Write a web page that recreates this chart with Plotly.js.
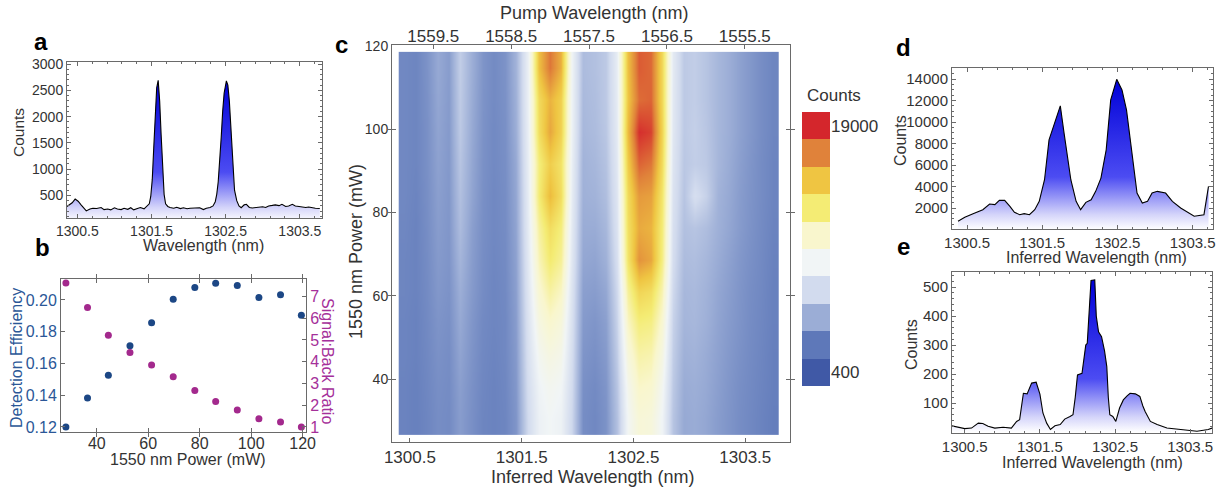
<!DOCTYPE html>
<html><head><meta charset="utf-8">
<script src="https://cdn.plot.ly/plotly-3.0.1.min.js"></script>
<style>html,body{margin:0;padding:0;background:#fff}#chart{width:1231px;height:492px}</style>
</head><body><div id="chart"></div>
<script>
// ---------- DATA ----------
// panel a: spectrum
const aWave = [1300.36,1300.43,1300.47,1300.51,1300.55,1300.59,1300.62,1300.67,1300.71,1300.76,1300.82,1300.86,1300.91,1300.95,1301.00,1301.04,1301.09,1301.13,1301.18,1301.22,1301.26,1301.31,1301.35,1301.40,1301.44,1301.47,1301.49,1301.51,1301.53,1301.55,1301.57,1301.59,1301.61,1301.63,1301.65,1301.67,1301.69,1301.72,1301.75,1301.80,1301.84,1301.89,1301.93,1301.98,1302.02,1302.07,1302.11,1302.15,1302.20,1302.24,1302.29,1302.33,1302.36,1302.38,1302.40,1302.42,1302.44,1302.46,1302.48,1302.51,1302.53,1302.55,1302.57,1302.60,1302.62,1302.65,1302.68,1302.71,1302.75,1302.78,1302.82,1302.86,1302.91,1302.95,1303.00,1303.04,1303.08,1303.13,1303.17,1303.22,1303.26,1303.31,1303.35,1303.40,1303.44,1303.49,1303.53,1303.58,1303.62,1303.67,1303.71,1303.77];
const aCounts = [290,360,430,390,320,250,205,240,255,250,270,230,240,225,265,240,230,255,235,265,225,250,270,245,290,340,480,800,1400,2100,2550,2690,2300,1650,950,520,340,290,270,255,275,250,265,245,255,260,250,265,230,255,270,300,380,520,760,1100,1600,2100,2450,2680,2600,2300,1800,1050,600,400,300,265,320,330,270,260,265,275,285,270,300,310,320,305,330,290,300,330,300,290,285,270,280,260,255,250];

// panel b: efficiency and ratio vs power
const powerB = [28.0,36.4,44.5,52.9,61.3,69.7,78.1,86.2,94.6,103.0,111.4,119.5];
const effB   = [0.1200,0.1383,0.1526,0.1712,0.1857,0.2004,0.2078,0.2105,0.2091,0.2015,0.2032,0.1903];
const ratioB = [7.62,6.49,5.22,4.42,3.85,3.31,2.68,2.17,1.78,1.38,1.23,1.00];

// panel c: counts map (rows = power, cols = inferred wavelength)
const heatWave = [1300.45,1300.55,1300.65,1300.75,1300.85,1300.95,1301.05,1301.15,1301.25,1301.35,1301.45,1301.55,1301.65,1301.75,1301.85,1301.95,1302.05,1302.15,1302.25,1302.35,1302.45,1302.55,1302.65,1302.75,1302.85,1302.95,1303.05,1303.15,1303.25,1303.35,1303.45,1303.55,1303.65,1303.75];
const heatPower = [30.4,38.1,45.7,53.4,61.0,68.7,76.4,84.0,91.7,99.3,107.0,114.7];
const heatCounts = [
 [2900,2800,3000,3300,3200,3900,3400,3000,2900,3000,3600,6600,8300,8700,8400,6400,3300,3100,3500,5400,8800,10200,10000,8600,5600,4400,4500,4300,3900,3600,3300,3100,2900,2700],
 [2900,2800,3050,3350,3250,4000,3450,3050,2900,3050,3700,6800,8500,9000,8700,6600,3400,3200,3600,5600,9200,10800,10600,9000,5800,4500,4600,4400,4000,3650,3350,3150,2950,2750],
 [2950,2850,3100,3450,3300,4200,3550,3100,2950,3100,3800,7000,9000,9700,9300,6800,3600,3400,3800,5900,10000,11600,11400,9700,6000,4700,4800,4500,4100,3750,3450,3200,3000,2750],
 [2950,2850,3150,3550,3400,4400,3650,3150,3000,3100,3900,7200,9700,10600,10000,7000,3800,3600,4000,6200,10900,12600,12400,10500,6200,4900,5000,4700,4200,3850,3550,3250,3050,2800],
 [3000,2900,3200,3700,3500,4600,3800,3250,3000,3150,4000,7400,10400,11700,10900,7200,4000,3900,4300,6500,11900,14000,13600,11400,6500,5000,5100,4800,4300,3950,3600,3300,3100,2800],
 [3000,2900,3250,3800,3600,4900,3900,3300,3050,3200,4100,7600,11200,12900,12000,7500,4300,4200,4700,6900,13200,16400,15800,12500,6800,5200,5300,5000,4500,4100,3700,3400,3150,2850],
 [3050,2900,3300,3900,3650,5200,4000,3350,3100,3250,4200,7800,11800,13600,12600,7700,4500,4500,5000,7200,13500,15700,15400,12800,7000,5400,5600,5300,4700,4300,3850,3500,3200,2900],
 [3100,2950,3350,4000,3700,5400,4200,3400,3100,3300,4300,7900,12800,15200,13600,7900,4700,4800,5300,7400,13800,16200,16000,13200,7200,5600,6900,6200,4800,4400,3900,3550,3250,2950],
 [3100,3000,3400,4100,3750,5600,4300,3450,3150,3350,4400,8000,12600,14400,13300,8100,4800,5000,5500,7600,14500,17600,17200,13800,7400,5700,6000,5800,5000,4500,4000,3600,3250,2950],
 [3100,3000,3400,4200,3800,5800,4400,3500,3150,3400,4600,8100,13600,15800,14200,8300,5000,5200,5700,7800,15200,18800,18400,14200,7600,5800,6100,5700,5000,4600,4100,3700,3300,3000],
 [3100,3000,3450,4300,3850,5900,4500,3550,3200,3450,4700,8200,13800,15400,14300,8400,5100,5300,5800,7900,14800,17400,17600,14000,7700,5800,6000,5600,5000,4600,4100,3700,3300,3000],
 [3100,3000,3500,4400,3900,6000,4600,3600,3200,3500,4800,8200,15000,17200,15500,8500,5200,5400,5800,8000,15000,17800,17500,14000,7800,5800,6000,5600,5000,4600,4100,3700,3300,3000]
];
const pumpTicks = [1559.5,1558.5,1557.5,1556.5,1555.5];
const cbLevels = [400,2467,4533,6600,8667,10733,12800,14867,16933,19000];

// panel d
const dWave = [1300.38,1300.47,1300.58,1300.71,1300.80,1300.87,1300.93,1301.00,1301.07,1301.13,1301.20,1301.26,1301.33,1301.40,1301.46,1301.53,1301.59,1301.66,1301.74,1301.79,1301.88,1301.95,1302.01,1302.08,1302.15,1302.21,1302.28,1302.35,1302.41,1302.49,1302.56,1302.62,1302.70,1302.76,1302.83,1302.90,1302.96,1303.03,1303.14,1303.23,1303.34,1303.52,1303.65,1303.71];
const dCounts = [763,1134,1474,1845,2370,2310,2710,2710,2155,1600,1380,1474,1380,1845,2620,4630,8340,9890,11500,8960,4630,2620,1845,2525,2770,3550,4780,7410,12050,13970,12980,11120,6790,3390,2460,2620,3390,3550,3390,2620,2000,1230,1380,4010];

// panel e
const eWave = [1300.32,1300.41,1300.50,1300.59,1300.65,1300.68,1300.74,1300.81,1300.90,1301.01,1301.12,1301.19,1301.23,1301.26,1301.28,1301.33,1301.36,1301.39,1301.45,1301.50,1301.54,1301.59,1301.64,1301.70,1301.77,1301.83,1301.90,1301.94,1301.97,1302.00,1302.06,1302.09,1302.11,1302.13,1302.16,1302.18,1302.23,1302.25,1302.28,1302.32,1302.36,1302.39,1302.41,1302.43,1302.47,1302.51,1302.56,1302.61,1302.66,1302.70,1302.77,1302.83,1302.87,1302.90,1302.97,1303.06,1303.19,1303.37,1303.59,1303.74,1303.79];
const eCounts = [22,18,12,14,25,31,30,20,14,17,14,37,43,100,134,132,150,169,172,131,66,31,9,22,26,45,54,60,120,197,203,260,300,306,420,523,525,400,346,329,280,226,120,60,54,37,83,111,125,134,132,123,90,71,37,26,14,9,3,9,14];

// ---------- STYLE ----------
const W = 1231, H = 492;
const fx = p => p / W, fy = p => 1 - p / H;
const FONT = 'Liberation Sans, Arial, Helvetica, sans-serif';
const TXT = '#333333';
const FRAME = '#6a6a6a';
const BLUE = '#2b5797', PURPLE = '#a5309a';
const FILLSCALE = [[0,'#ffffff'],[0.1,'#d4d4fa'],[0.35,'#4c4cf2'],[1,'#0000d8']];
const bandColors = ['#4059a6','#5e78b9','#9badd6','#d2dbee','#f1f5f6','#f9f6cd','#f4ec74','#efc542','#e0823a','#d4262c'];
const HEATSCALE = bandColors.map((c, i) => [i / (bandColors.length - 1), c]);

function ax(extra) {
  return Object.assign({
    showline: true, linecolor: FRAME, linewidth: 1, mirror: 'allticks',
    ticks: 'inside', ticklen: 4, tickcolor: FRAME, tickwidth: 1,
    showgrid: false, zeroline: false, fixedrange: true,
    tickfont: {family: FONT, size: 14, color: TXT}
  }, extra);
}
function tf(size, color) { return {family: FONT, size: size, color: color || TXT}; }

const traces = [
  {x: aWave, y: aCounts, xaxis: 'x', yaxis: 'y', mode: 'lines', line: {color: '#000', width: 1.1},
   fill: 'tozeroy', fillgradient: {type: 'vertical', colorscale: FILLSCALE}, hoverinfo: 'skip'},
  {x: powerB, y: effB, xaxis: 'x2', yaxis: 'y2', mode: 'markers', marker: {color: '#1c4785', size: 7}},
  {x: powerB, y: ratioB, xaxis: 'x2', yaxis: 'y3', mode: 'markers', marker: {color: '#a3298d', size: 7}},
  {type: 'heatmap', x: heatWave, y: heatPower, z: heatCounts, xaxis: 'x3', yaxis: 'y4',
   zsmooth: 'best', colorscale: HEATSCALE, zmin: 400, zmax: 19000, showscale: false, hoverinfo: 'skip'},
  {x: pumpTicks, y: pumpTicks.map(() => null), xaxis: 'x4', yaxis: 'y4', mode: 'markers', hoverinfo: 'skip'},
  {type: 'heatmap', x: [0], y: cbLevels.map((v, i) => i), z: cbLevels.map(v => [v]), xaxis: 'x5', yaxis: 'y5',
   colorscale: HEATSCALE, zmin: 400, zmax: 19000, showscale: false, hoverinfo: 'skip'},
  {x: dWave, y: dCounts, xaxis: 'x6', yaxis: 'y6', mode: 'lines', line: {color: '#000', width: 1.1},
   fill: 'tozeroy', fillgradient: {type: 'vertical', colorscale: FILLSCALE}, hoverinfo: 'skip'},
  {x: eWave, y: eCounts, xaxis: 'x7', yaxis: 'y7', mode: 'lines', line: {color: '#000', width: 1.1},
   fill: 'tozeroy', fillgradient: {type: 'vertical', colorscale: FILLSCALE}, hoverinfo: 'skip'}
];

const minorX = {ticks: 'inside', ticklen: 2, tickcolor: FRAME, dtick: 0.2, tick0: 1300.5};

const layout = {
  width: W, height: H, margin: {l: 0, r: 0, t: 0, b: 0},
  paper_bgcolor: '#fff', plot_bgcolor: '#fff', showlegend: false,
  font: {family: FONT, color: TXT},
  // panel a
  xaxis: ax({domain: [fx(67), fx(322)], anchor: 'y', range: [1300.36, 1303.80], tick0: 1300.5, dtick: 1, tickformat: '.1f', minor: minorX}),
  yaxis: ax({domain: [fy(218), fy(62)], anchor: 'x', range: [70, 3040], tick0: 0, dtick: 500, tickformat: 'd',
             minor: {ticks: 'inside', ticklen: 2, tickcolor: FRAME, dtick: 100}}),
  // panel b
  xaxis2: ax({domain: [fx(61), fx(306)], anchor: 'y2', range: [26.1, 121.3], tick0: 0, dtick: 20, tickfont: tf(16),
              ticklabelstandoff: -3}),
  yaxis2: ax({domain: [fy(432), fy(279)], anchor: 'x2', range: [0.1168, 0.2132], tick0: 0, dtick: 0.02, tickformat: '.2f',
              mirror: false, tickfont: tf(16, BLUE)}),
  yaxis3: ax({overlaying: 'y2', side: 'right', anchor: 'x2', range: [0.77, 7.8], tick0: 0, dtick: 1,
              mirror: false, tickfont: tf(16, PURPLE)}),
  // panel c
  xaxis3: ax({domain: [fx(392), fx(790)], anchor: 'y4', range: [1300.34, 1303.90], tick0: 1300.5, dtick: 1, tickformat: '.1f',
              mirror: false, tickfont: tf(17)}),
  xaxis4: ax({overlaying: 'x3', side: 'top', anchor: 'y4', range: [1560.03, 1554.92], tickvals: pumpTicks, tickformat: '.1f',
              mirror: false, tickfont: tf(17), ticklabelstandoff: -5}),
  yaxis4: ax({domain: [fy(442), fy(45)], anchor: 'x3', range: [24.9, 120.2], tick0: 0, dtick: 20, tickfont: tf(14)}),
  // colour key
  xaxis5: {domain: [fx(802), fx(830)], anchor: 'y5', range: [-0.5, 0.5], showline: false, showticklabels: false,
           ticks: '', showgrid: false, zeroline: false, fixedrange: true},
  yaxis5: {domain: [fy(386), fy(112)], anchor: 'x5', range: [-0.5, 9.5], side: 'right', showline: false, ticks: '',
           showgrid: false, zeroline: false, fixedrange: true, tickvals: [0, cbLevels.length - 1],
           ticktext: [String(cbLevels[0]), String(cbLevels[cbLevels.length - 1])], tickfont: tf(17)},
  // panel d
  xaxis6: ax({domain: [fx(952), fx(1213)], anchor: 'y6', range: [1300.30, 1303.77], tick0: 1300.5, dtick: 1, tickformat: '.1f',
              tickfont: tf(15), minor: minorX}),
  yaxis6: ax({domain: [fy(229), fy(68)], anchor: 'x6', range: [47, 15023], tick0: 0, dtick: 2000, tickformat: 'd', tickfont: tf(15),
              minor: {ticks: 'inside', ticklen: 2, tickcolor: FRAME, dtick: 500}}),
  // panel e
  xaxis7: ax({domain: [fx(952), fx(1212)], anchor: 'y7', range: [1300.33, 1303.79], tick0: 1300.5, dtick: 1, tickformat: '.1f',
              tickfont: tf(15), minor: minorX}),
  yaxis7: ax({domain: [fy(433), fy(272)], anchor: 'x7', range: [-3, 552], tickvals: [100, 200, 300, 400, 500], tickfont: tf(15),
              minor: {ticks: 'inside', ticklen: 2, tickcolor: FRAME, dtick: 20}}),
  annotations: []
};

function note(text, x, y, size, opts) {
  layout.annotations.push(Object.assign({
    text: text, x: fx(x), y: fy(y), xref: 'paper', yref: 'paper', showarrow: false,
    xanchor: 'center', yanchor: 'middle', font: {family: FONT, size: size, color: TXT}
  }, opts || {}));
}
// panel letters
['a', 'b', 'c', 'd', 'e'].forEach((l, i) => {
  const pos = [[41, 42], [42, 248], [341, 45], [903, 47], [903, 246]][i];
  note('<b>' + l + '</b>', pos[0], pos[1], 24, {font: {family: FONT, size: 24, color: '#000'}});
});
// axis titles
note('Counts', 19, 133, 15.5, {textangle: -90});
note('Wavelength (nm)', 203, 245, 16);
note('1550 nm Power (mW)', 188, 459, 16);
note('Detection Efficiency', 16, 358, 16, {textangle: -90, font: {family: FONT, size: 16, color: BLUE}});
note('Signal:Back Ratio', 328, 361, 16, {textangle: 90, font: {family: FONT, size: 16, color: PURPLE}});
note('Inferred Wavelength (nm)', 592, 477, 18);
note('Pump Wavelength (nm)', 594, 13, 18);
note('1550 nm Power (mW)', 356, 252, 18, {textangle: -90});
note('Counts', 834, 96, 17);
note('Inferred Wavelength (nm)', 1096, 257, 16);
note('Counts', 900, 141, 16, {textangle: -90});
note('Inferred Wavelength (nm)', 1092, 462, 16);
note('Counts', 911, 345, 16, {textangle: -90});

Plotly.newPlot('chart', traces, layout, {staticPlot: true, displayModeBar: false});
</script></body></html>
